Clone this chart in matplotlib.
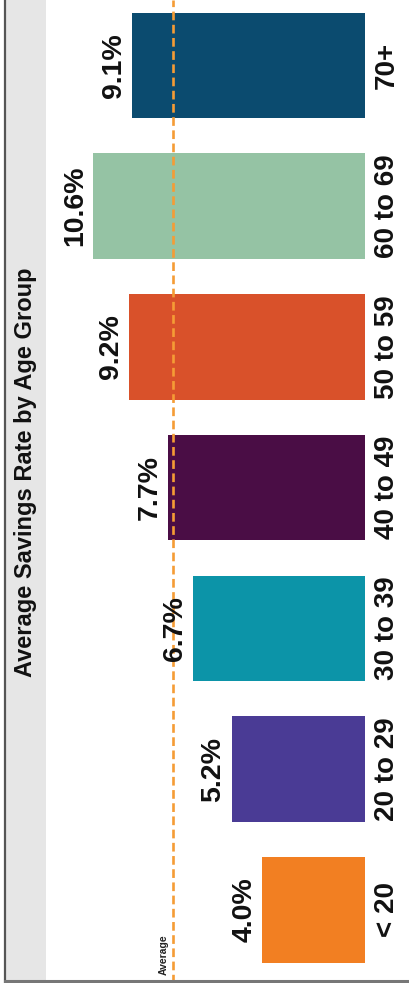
import matplotlib
matplotlib.use("Agg")
import matplotlib.pyplot as plt
from matplotlib.lines import Line2D
from matplotlib.patches import Rectangle

age_groups = ["< 20", "20 to 29", "30 to 39", "40 to 49", "50 to 59", "60 to 69", "70+"]
savings_rate = [4.0, 5.2, 6.7, 7.7, 9.2, 10.6, 9.1]
bar_colors = ["#f27f22", "#4a3b95", "#0c94a8", "#4a0d45", "#d9512a", "#95c3a4", "#0b4b6f"]
average_rate = 7.5
title = "Average Savings Rate by Age Group"

W, H = 409, 983
DPI = 100

plt.rcParams["font.family"] = ["Liberation Sans", "DejaVu Sans"]

fig = plt.figure(figsize=(W / DPI, H / DPI), dpi=DPI)
fig.patch.set_facecolor("white")

# chart is laid on its side: bars grow to the left from a baseline on the right
ax_left, ax_right = 46, 365
ax = fig.add_axes([ax_left / W, 0, (ax_right - ax_left) / W, 1])
ax.set_xlim(12.44, 0)
ax.set_ylim(-0.519, 6.465)
ax.axis("off")

ypos = list(range(len(age_groups)))
ax.barh(ypos, savings_rate, height=0.75, color=bar_colors, zorder=2)

for i, (grp, v) in enumerate(zip(age_groups, savings_rate)):
    ax.annotate(f"{v:.1f}%", xy=(v, i), xytext=(-13, 0), textcoords="offset points",
                ha="center", va="center", rotation=90, fontsize=20.5,
                fontweight="bold", color="#111111", zorder=4)
    ax.annotate(grp, xy=(0, i), xytext=(15.5, 0), textcoords="offset points",
                ha="center", va="center", rotation=90, fontsize=20,
                fontweight="bold", color="#111111", annotation_clip=False)

ax.axvline(average_rate, color="#f59c35", lw=1.9, dashes=(3.3, 1.7), zorder=3)
ax.annotate("Average", xy=(average_rate, 0), xycoords=("data", "axes fraction"),
            xytext=(-3, 6), textcoords="offset points", ha="right", va="bottom",
            rotation=90, fontsize=7.5, fontweight="bold", color="#222222")

# grey title strip and frame lines
fig.patches.append(Rectangle((5 / W, 0), 41 / W, 1, transform=fig.transFigure,
                             facecolor="#e6e6e6", edgecolor="none", zorder=0))
fig.lines.append(Line2D([4.5 / W, 4.5 / W], [0, 1], transform=fig.transFigure,
                        color="#555555", lw=1.6))
fig.lines.append(Line2D([4.5 / W, 1], [2 / H, 2 / H], transform=fig.transFigure,
                        color="#777777", lw=2.2))
fig.text(26 / W, 1 - 472 / H, title, rotation=90, ha="center", va="center",
         fontsize=17, fontweight="bold", color="#111111")

fig.savefig("out.png", dpi=DPI)
